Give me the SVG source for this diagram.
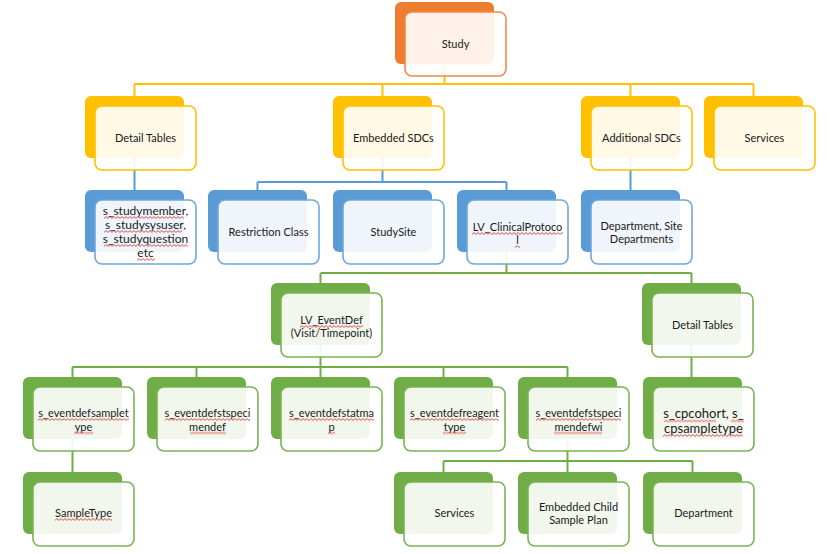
<svg xmlns="http://www.w3.org/2000/svg" width="830" height="554" viewBox="0 0 830 554">
<style>
text{font-family:Lato,"Liberation Sans",sans-serif;font-size:11px;fill:#1a1a1a;text-anchor:middle}
.big{font-size:12px}
.big2{font-size:13px}
.b{rx:6;ry:6}
.f{rx:7;ry:7;fill:#fff;fill-opacity:0.9;stroke-width:1.6}
.o .b{fill:#ED7D31}.o .f{stroke:#F08A45}
.y .b{fill:#FFC000}.y .f{stroke:#FFC000}
.u .b{fill:#5B9BD5}.u .f{stroke:#6FA7DB}
.g .b{fill:#70AD47}.g .f{stroke:#79B453}
#connectors path{fill:none;stroke-width:2}
.cy{stroke:#FFC000}.cu{stroke:#5B9BD5}.cg{stroke:#70AD47}
.sq{fill:url(#sq)}
</style>
<defs>
<pattern id="sq" patternUnits="userSpaceOnUse" width="4" height="3">
<path d="M0 2.4L2 0.6L4 2.4" fill="none" stroke="#e02020" stroke-width="0.8"/>
</pattern>
</defs>
<rect width="830" height="554" fill="#fff"/>
<g id="connectors">
<path class="cy" d="M444.5 63V84M134.5 84H753.5M134.5 84V96M382.5 84V96M630.5 84V96M753.5 84V96"/>
<path class="cu" d="M134.5 158V190M382.5 158V182M257.5 182H506.5M257.5 182V190M506.5 182V190M630.5 158V190"/>
<path class="cg" d="M506.5 252V273M320.5 273H691.5M320.5 273V283M691.5 273V283"/>
<path class="cg" d="M320.5 345V367M72.5 367H567.5M72.5 367V377M196.5 367V377M320.5 367V377M443.5 367V377M567.5 367V377"/>
<path class="cg" d="M691.5 345V377M72.5 439V472M567.5 439V461M443.5 461H692.5M443.5 461V472M567.5 461V472M692.5 461V472"/>
</g>
<g id="n-study" class="o"><rect class="b" x="395" y="2" width="99" height="62"/><rect class="f" x="405" y="12" width="101" height="64"/><text x="455.5" y="48">Study</text></g>
<g id="n-detail1" class="y"><rect class="b" x="85" y="96" width="99" height="62"/><rect class="f" x="95" y="106" width="101" height="64"/><text x="145.5" y="142">Detail Tables</text></g>
<g id="n-embedded" class="y"><rect class="b" x="333" y="96" width="99" height="62"/><rect class="f" x="343" y="106" width="101" height="64"/><text x="393.5" y="142">Embedded SDCs</text></g>
<g id="n-additional" class="y"><rect class="b" x="581" y="96" width="99" height="62"/><rect class="f" x="591" y="106" width="101" height="64"/><text x="641.5" y="142">Additional SDCs</text></g>
<g id="n-services1" class="y"><rect class="b" x="704" y="96" width="99" height="62"/><rect class="f" x="714" y="106" width="101" height="64"/><text x="764.5" y="142">Services</text></g>
<g id="n-studymember" class="u"><rect class="b" x="85" y="190" width="99" height="62"/><rect class="f" x="95" y="200" width="101" height="64"/><text class="big"><tspan x="145.5" y="215">s_studymember,</tspan><tspan x="145.5" y="229">s_studysysuser,</tspan><tspan x="145.5" y="243">s_studyquestion</tspan><tspan x="145.5" y="257">etc</tspan></text>
<rect class="sq" transform="translate(104,216)" width="80" height="3"/><rect class="sq" transform="translate(104,230)" width="78" height="3"/><rect class="sq" transform="translate(104,244)" width="84" height="3"/><rect class="sq" transform="translate(137,258)" width="18" height="3"/></g>
<g id="n-restriction" class="u"><rect class="b" x="208" y="190" width="99" height="62"/><rect class="f" x="218" y="200" width="101" height="64"/><text x="268.5" y="236">Restriction Class</text></g>
<g id="n-studysite" class="u"><rect class="b" x="333" y="190" width="99" height="62"/><rect class="f" x="343" y="200" width="101" height="64"/><text x="393.5" y="236">StudySite</text></g>
<g id="n-clinical" class="u"><rect class="b" x="457" y="190" width="99" height="62"/><rect class="f" x="467" y="200" width="101" height="64"/><text><tspan x="517.5" y="231">LV_ClinicalProtoco</tspan><tspan x="517.5" y="244">l</tspan></text>
<rect class="sq" transform="translate(472,232)" width="91" height="3"/><rect class="sq" transform="translate(515,245)" width="5" height="3"/></g>
<g id="n-department1" class="u"><rect class="b" x="581" y="190" width="99" height="62"/><rect class="f" x="591" y="200" width="101" height="64"/><text><tspan x="641.5" y="230">Department, Site</tspan><tspan x="641.5" y="243">Departments</tspan></text></g>
<g id="n-eventdef" class="g"><rect class="b" x="271" y="283" width="99" height="62"/><rect class="f" x="281" y="293" width="101" height="64"/><text><tspan x="331.5" y="324">LV_EventDef</tspan><tspan x="331.5" y="337">(Visit/Timepoint)</tspan></text>
<rect class="sq" transform="translate(300,325)" width="63" height="3"/></g>
<g id="n-detail2" class="g"><rect class="b" x="642" y="283" width="99" height="62"/><rect class="f" x="652" y="293" width="101" height="64"/><text x="702.5" y="329">Detail Tables</text></g>
<g id="n-sampletype1" class="g"><rect class="b" x="23" y="377" width="99" height="62"/><rect class="f" x="33" y="387" width="101" height="64"/><text><tspan x="83.5" y="417">s_eventdefsamplet</tspan><tspan x="83.5" y="430.5">ype</tspan></text>
<rect class="sq" transform="translate(38,418)" width="91" height="3"/><rect class="sq" transform="translate(74,431.5)" width="19" height="3"/></g>
<g id="n-specimendef" class="g"><rect class="b" x="147" y="377" width="99" height="62"/><rect class="f" x="157" y="387" width="101" height="64"/><text><tspan x="207.5" y="417">s_eventdefstspeci</tspan><tspan x="207.5" y="430.5">mendef</tspan></text>
<rect class="sq" transform="translate(165,418)" width="85" height="3"/><rect class="sq" transform="translate(190,431.5)" width="36" height="3"/></g>
<g id="n-statmap" class="g"><rect class="b" x="271" y="377" width="99" height="62"/><rect class="f" x="281" y="387" width="101" height="64"/><text><tspan x="331.5" y="417">s_eventdefstatma</tspan><tspan x="331.5" y="430.5">p</tspan></text>
<rect class="sq" transform="translate(289,418)" width="85" height="3"/><rect class="sq" transform="translate(328,431.5)" width="7" height="3"/></g>
<g id="n-reagent" class="g"><rect class="b" x="394" y="377" width="99" height="62"/><rect class="f" x="404" y="387" width="101" height="64"/><text><tspan x="454.5" y="417">s_eventdefreagent</tspan><tspan x="454.5" y="430.5">type</tspan></text>
<rect class="sq" transform="translate(410,418)" width="89" height="3"/><rect class="sq" transform="translate(443,431.5)" width="23" height="3"/></g>
<g id="n-specimendefwi" class="g"><rect class="b" x="518" y="377" width="99" height="62"/><rect class="f" x="528" y="387" width="101" height="64"/><text><tspan x="578.5" y="417">s_eventdefstspeci</tspan><tspan x="578.5" y="430.5">mendefwi</tspan></text>
<rect class="sq" transform="translate(536,418)" width="85" height="3"/><rect class="sq" transform="translate(554,431.5)" width="48" height="3"/></g>
<g id="n-cpcohort" class="g"><rect class="b" x="643" y="377" width="99" height="62"/><rect class="f" x="653" y="387" width="101" height="64"/><text class="big2"><tspan x="703.5" y="418">s_cpcohort, s_</tspan><tspan x="703.5" y="432.5">cpsampletype</tspan></text>
<rect class="sq" transform="translate(664,419.5)" width="52" height="3"/><rect class="sq" transform="translate(731,419.5)" width="13" height="3"/><rect class="sq" transform="translate(663,434)" width="80" height="3"/></g>
<g id="n-sampletype2" class="g"><rect class="b" x="23" y="472" width="99" height="62"/><rect class="f" x="33" y="482" width="101" height="64"/><text x="83.5" y="517">SampleType</text>
<rect class="sq" transform="translate(55,518)" width="57" height="3"/></g>
<g id="n-services2" class="g"><rect class="b" x="394" y="472" width="99" height="62"/><rect class="f" x="404" y="482" width="101" height="64"/><text x="454.5" y="517">Services</text></g>
<g id="n-childplan" class="g"><rect class="b" x="518" y="472" width="99" height="62"/><rect class="f" x="528" y="482" width="101" height="64"/><text><tspan x="578.5" y="511">Embedded Child</tspan><tspan x="578.5" y="524">Sample Plan</tspan></text></g>
<g id="n-department2" class="g"><rect class="b" x="643" y="472" width="99" height="62"/><rect class="f" x="653" y="482" width="101" height="64"/><text x="703.5" y="517">Department</text></g>
</svg>
